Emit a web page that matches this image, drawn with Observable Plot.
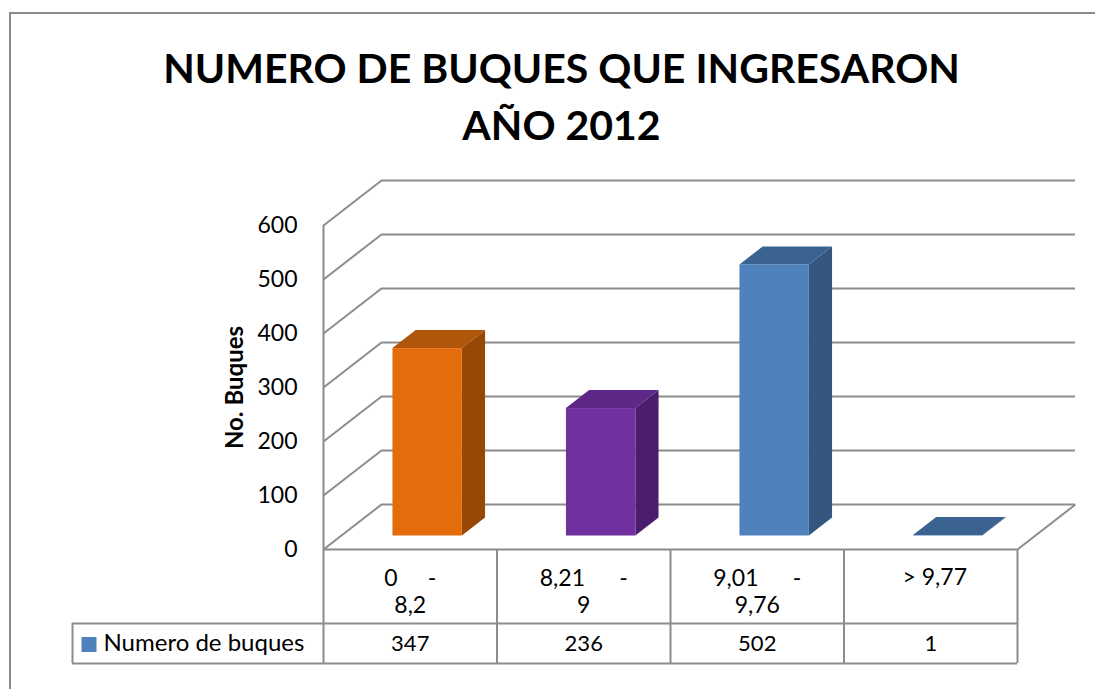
<!DOCTYPE html>
<html><head><meta charset="utf-8">
<script src="https://cdn.jsdelivr.net/npm/d3@7"></script>
<script src="https://cdn.jsdelivr.net/npm/@observablehq/plot@0.6"></script>
<style>
body{margin:0;background:#fff;}
#wrap{position:relative;width:1095px;height:689px;overflow:hidden;background:#fff;}
#frame{position:absolute;left:9px;top:12px;width:1200px;height:800px;border-left:2px solid #8a8a8a;border-top:2px solid #8a8a8a;}
#chart{position:absolute;left:0;top:0;}
</style></head><body>
<div id="wrap"><div id="frame"></div><div id="chart"></div></div>
<script>
// ---- data ----
const title = "NUMERO DE BUQUES QUE INGRESARON\nAÑO 2012";
const yTitle = "No. Buques";
const seriesName = "Numero de buques";
const categories = ["0 - 8,2", "8,21 - 9", "9,01 - 9,76", "> 9,77"];
const values = [347, 236, 502, 1];
const yTicks = [0, 100, 200, 300, 400, 500, 600];

// ---- styles ----
const frontColors = ["#E46C0A", "#7030A0", "#4F81BD", "#4F81BD"];
const sideColors  = ["#974806", "#4A1E6C", "#34567F", "#34567F"];
const topColors   = ["#B0560A", "#5C2786", "#3B6391", "#3B6391"];
const gridColor = "#8c8c8c";
const font = "Lato, 'Open Sans', sans-serif";

// ---- layout ----
const W = 1095, H = 689, mL = 323, mR = 78, mT = 225, mB = 140;
const n = categories.length, yMax = d3.max(yTicks);
const kx = (W - mL - mR) / n, ky = (H - mT - mB) / yMax;
const depthPx = [58, 45];
const DX = depthPx[0] / kx, DY = depthPx[1] / ky;
const d0 = 0.3, d1 = 0.7;   // bar depth range
const b0 = 0.3, b1 = 0.7;   // bar position inside category
const rowLine = 74, tableBottom = 114, tableLeftPx = 72;

const bars = values.map((v, i) => ({i, v, cat: categories[i]}));

const sidePts = bars.flatMap(b => [d0, d1].map(d => ({i: b.i, x: b.i + b1 + d * DX, y1: d * DY, y2: b.v + d * DY})));
const topPts = bars.flatMap(b => [d0, d1].map(d => ({i: b.i, y: b.v + d * DY, x1: b.i + b0 + d * DX, x2: b.i + b1 + d * DX})));

const parts = categories.map(c => {
  const p = c.split(" - ");
  return p.length === 2 ? {left: p[0], dash: "-", line2: p[1]} : {left: c, dash: "", line2: ""};
});
const lab = parts.map((p, i) => ({i, ...p, spread: p.dash ? (p.left.length <= 1 ? 26 : 44) / kx : 0}));
const labSplit = lab.filter(d => d.dash), labSingle = lab.filter(d => !d.dash);

const lineStyle = {stroke: gridColor, strokeWidth: 2};

const chart = Plot.plot({
  width: W, height: H,
  marginLeft: mL, marginRight: mR, marginTop: mT, marginBottom: mB,
  x: {type: "linear", domain: [0, n], axis: null},
  y: {type: "linear", domain: [0, yMax]},
  style: {fontFamily: font, color: "#000", background: "transparent", overflow: "visible"},
  marks: [
    // back wall gridlines
    Plot.ruleY(yTicks, {y: d => d + DY, x1: DX, x2: n + DX, ...lineStyle}),
    // side wall diagonals
    Plot.link(yTicks, {x1: 0, y1: d => d, x2: DX, y2: d => d + DY, ...lineStyle}),
    // floor right edge
    Plot.link([0], {x1: n, y1: 0, x2: n + DX, y2: DY, ...lineStyle}),
    // front vertical axis line
    Plot.ruleX([0], {y1: 0, y2: yMax, ...lineStyle}),
    // table
    Plot.ruleY([0], {x1: 0, x2: n, ...lineStyle}),
    Plot.ruleY([0], {x1: (tableLeftPx - mL) / kx, x2: n, dy: rowLine, ...lineStyle}),
    Plot.ruleY([0], {x1: (tableLeftPx - mL) / kx, x2: n, dy: tableBottom, ...lineStyle}),
    Plot.ruleX(d3.range(n + 1), {y1: 0, y2: -tableBottom / ky, ...lineStyle}),
    Plot.ruleX([(tableLeftPx - mL) / kx], {y1: -rowLine / ky, y2: -tableBottom / ky, ...lineStyle}),
    // bars: side faces
    Plot.areaY(sidePts, {x: "x", y1: "y1", y2: "y2", z: "i", fill: d => sideColors[d.i]}),
    // bars: top faces
    Plot.areaX(topPts, {y: "y", x1: "x1", x2: "x2", z: "i", fill: d => topColors[d.i]}),
    // bars: front faces
    Plot.rect(bars, {x1: d => d.i + b0 + d0 * DX, x2: d => d.i + b1 + d0 * DX, y1: d0 * DY, y2: d => d.v + d0 * DY, fill: d => frontColors[d.i]}),
    // y axis
    Plot.axisY({ticks: yTicks, tickSize: 0, tickPadding: 26, fontSize: 23, label: null}),
    Plot.text([yTitle], {frameAnchor: "left", dx: -88, rotate: -90, textAnchor: "middle", lineAnchor: "middle", fontSize: 24, fontWeight: "bold"}),
    // title
    Plot.text([title], {frameAnchor: "top", lineAnchor: "top", dx: 561 - (mL + (W - mL - mR) / 2), dy: -183, fontSize: 41, fontWeight: "bold", lineHeight: 1.39}),
    // category labels (wrapped, justified first line)
    Plot.text(labSplit, {x: d => d.i + 0.5 - d.spread, y: 0, dy: 29, text: "left", textAnchor: "start", lineAnchor: "middle", fontSize: 23}),
    Plot.text(labSplit, {x: d => d.i + 0.5 + d.spread, y: 0, dy: 29, text: "dash", textAnchor: "end", lineAnchor: "middle", fontSize: 23}),
    Plot.text(labSplit, {x: d => d.i + 0.5, y: 0, dy: 56, text: "line2", lineAnchor: "middle", fontSize: 23}),
    Plot.text(labSingle, {x: d => d.i + 0.5, y: 0, dx: 4, dy: 28, text: "left", lineAnchor: "middle", fontSize: 23}),
    // values row
    Plot.text(bars, {x: d => d.i + 0.5, y: 0, dy: 94, text: d => String(d.v), lineAnchor: "middle", fontSize: 22}),
    // legend key + series name
    Plot.dot([seriesName], {frameAnchor: "bottom-left", dx: 88.5 - mL, dy: 95, symbol: "square", r: 8.46, fill: frontColors[2], stroke: "none"}),
    Plot.text([seriesName], {frameAnchor: "bottom-left", dx: 103 - mL, dy: 94, textAnchor: "start", lineAnchor: "middle", fontSize: 24})
  ]
});
document.getElementById("chart").appendChild(chart);
</script>
</body></html>
